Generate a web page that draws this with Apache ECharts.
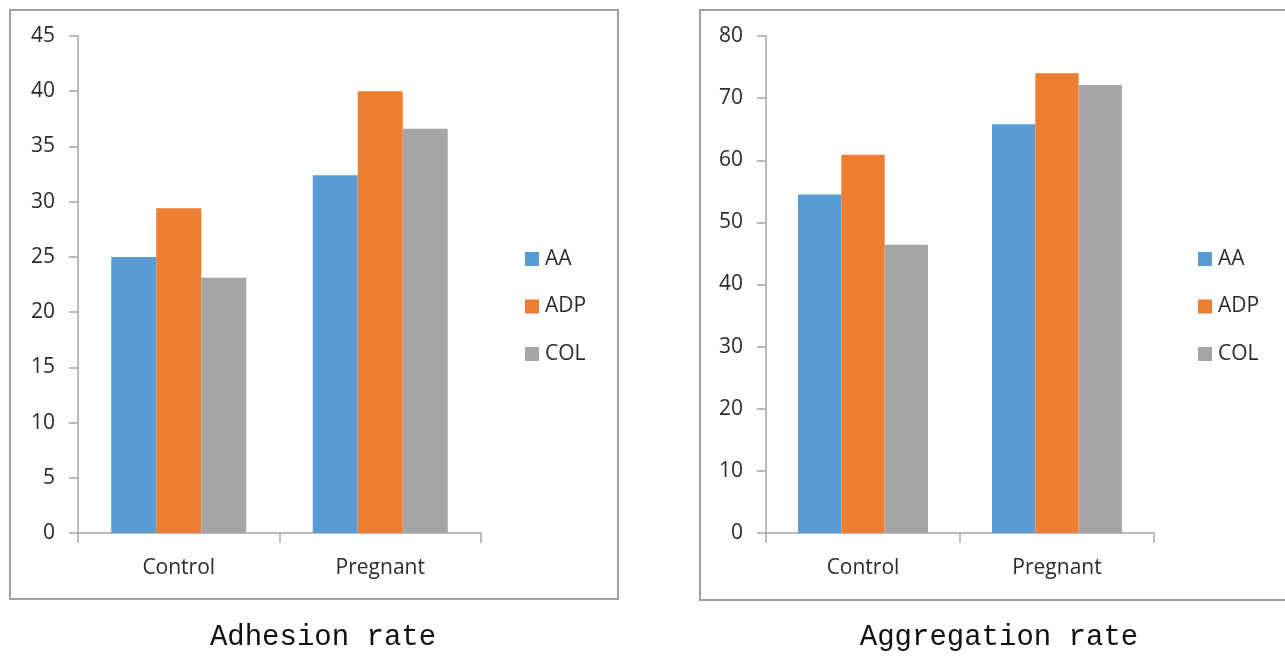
<!DOCTYPE html>
<html>
<head>
<meta charset="utf-8">
<script src="https://cdn.jsdelivr.net/npm/echarts@6/dist/echarts.min.js"></script>
<style>
html,body{margin:0;padding:0;background:#fff;}
#c{width:1285px;height:662px;}
</style>
</head>
<body>
<div id="c"></div>
<script>
const categories = ['Control', 'Pregnant'];
const seriesNames = ['AA', 'ADP', 'COL'];
const colors = ['#5b9bd5', '#ed7d31', '#a5a5a5'];
const adhesionAA = [25.0, 32.4];
const adhesionADP = [29.4, 40.0];
const adhesionCOL = [23.1, 36.6];
const aggregationAA = [54.5, 65.8];
const aggregationADP = [60.9, 74.0];
const aggregationCOL = [46.4, 72.1];
const titles = ['Adhesion rate', 'Aggregation rate'];

const chart = echarts.init(document.getElementById('c'));
const axisColor = '#a6a6a6';
const textColor = '#2b2b2b';
const labelFont = 'Open Sans';
const labelSize = 21;

function xAxis(gi) {
  return {
    type: 'category', gridIndex: gi, data: categories,
    axisLine: {lineStyle: {color: axisColor, width: 1.5}},
    axisTick: {show: true, length: 10, lineStyle: {color: axisColor, width: 1.5}},
    axisLabel: {color: textColor, fontSize: labelSize, fontFamily: labelFont, margin: 24, lineHeight: 22}
  };
}
function yAxis(gi, max, interval) {
  return {
    type: 'value', gridIndex: gi, min: 0, max: max, interval: interval,
    axisLine: {show: true, lineStyle: {color: axisColor, width: 1.5}},
    axisTick: {show: true, length: 9, lineStyle: {color: axisColor, width: 1.5}},
    splitLine: {show: false},
    axisLabel: {color: textColor, fontSize: labelSize, fontFamily: labelFont, margin: 23}
  };
}
function bars(gi, datas) {
  return datas.map((d, i) => ({
    name: seriesNames[i], type: 'bar', xAxisIndex: gi, yAxisIndex: gi,
    data: d, itemStyle: {color: colors[i]},
    barGap: '0%', barCategoryGap: '33%'
  }));
}
function legend(left) {
  return {
    data: seriesNames, orient: 'vertical', left: left, top: 248, padding: 0,
    itemWidth: 14, itemHeight: 14, itemGap: 25.5, icon: 'rect',
    textStyle: {color: textColor, fontSize: labelSize, fontFamily: labelFont, lineHeight: 22, padding: [0,0,0,1]}
  };
}

chart.setOption({
  animation: false,
  backgroundColor: '#fff',
  grid: [
    {left: 78, top: 36, width: 403, height: 497},
    {left: 766, top: 36, width: 388, height: 497}
  ],
  xAxis: [xAxis(0), xAxis(1)],
  yAxis: [yAxis(0, 45, 5), yAxis(1, 80, 10)],
  legend: [legend(525), legend(1198)],
  title: [
    {text: titles[0], left: 318, top: 618, textAlign: 'center',
     textStyle: {fontFamily: 'Liberation Mono', fontWeight: 'normal', fontSize: 29, color: '#111'}},
    {text: titles[1], left: 994, top: 618, textAlign: 'center',
     textStyle: {fontFamily: 'Liberation Mono', fontWeight: 'normal', fontSize: 29, color: '#111'}}
  ],
  graphic: [
    {type: 'rect', shape: {x: 10, y: 10, width: 608, height: 589}, style: {fill: 'none', stroke: '#a0a0a0', lineWidth: 2}, silent: true},
    {type: 'rect', shape: {x: 700, y: 10, width: 600, height: 590}, style: {fill: 'none', stroke: '#a0a0a0', lineWidth: 2}, silent: true}
  ],
  series: [
    ...bars(0, [adhesionAA, adhesionADP, adhesionCOL]),
    ...bars(1, [aggregationAA, aggregationADP, aggregationCOL])
  ]
});
</script>
</body>
</html>
